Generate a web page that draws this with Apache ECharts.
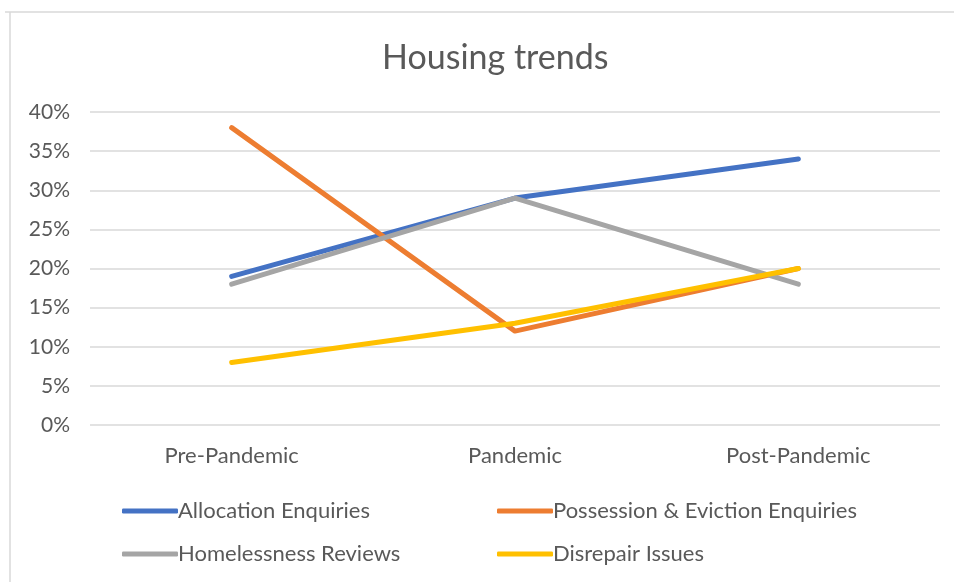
<!DOCTYPE html>
<html>
<head>
<meta charset="utf-8">
<title>Housing trends</title>
<script src="https://cdn.jsdelivr.net/npm/echarts@6/dist/echarts.min.js"></script>
<style>
  html, body { margin: 0; padding: 0; background: #fff; }
  #chart { width: 954px; height: 582px; }
</style>
</head>
<body>
<div id="chart"></div>
<script>
// Periods on the x axis
const periods = ['Pre-Pandemic', 'Pandemic', 'Post-Pandemic'];

// Share of cases per period (percent)
const allocationEnquiries = [19, 29, 34];
const possessionEvictionEnquiries = [38, 12, 20];
const homelessnessReviews = [18, 29, 18];
const disrepairIssues = [8, 13, 20];

const seriesNames = [
  'Allocation Enquiries',
  'Possession & Eviction Enquiries',
  'Homelessness Reviews',
  'Disrepair Issues'
];
const seriesColors = ['#4472C4', '#ED7D31', '#A5A5A5', '#FFC000'];
const seriesValues = [allocationEnquiries, possessionEvictionEnquiries, homelessnessReviews, disrepairIssues];

const FONT = 'Lato, "Open Sans", sans-serif';
const TEXT = '#595959';

const chart = echarts.init(document.getElementById('chart'), null, { renderer: 'canvas' });

const legendCommon = {
  orient: 'vertical',
  top: 495,
  itemWidth: 56,
  itemHeight: 5,
  itemGap: 21,
  icon: 'roundRect',
  textStyle: { fontFamily: FONT, fontSize: 22, color: TEXT, padding: [0, 0, 0, -5] }
};

chart.setOption({
  animation: false,
  backgroundColor: '#fff',
  title: {
    text: 'Housing trends',
    left: 377,
    top: 36,
    textStyle: { fontFamily: FONT, fontSize: 34, fontWeight: 'normal', color: TEXT }
  },
  legend: [
    Object.assign({ left: 117, data: [seriesNames[0], seriesNames[2]] }, legendCommon),
    Object.assign({ left: 492, data: [seriesNames[1], seriesNames[3]] }, legendCommon)
  ],
  grid: { left: 90, right: 14, top: 112, bottom: 157 },
  xAxis: {
    type: 'category',
    data: periods,
    boundaryGap: true,
    axisLine: { show: false },
    axisTick: { show: false },
    axisLabel: { fontFamily: FONT, fontSize: 22, color: TEXT, margin: 20 }
  },
  yAxis: {
    type: 'value',
    min: 0,
    max: 40,
    interval: 5,
    axisLine: { show: false },
    axisTick: { show: false },
    axisLabel: {
      fontFamily: FONT, fontSize: 21, color: TEXT, margin: 20,
      formatter: v => v + '%'
    },
    splitLine: { lineStyle: { color: '#D9D9D9', width: 1.5 } }
  },
  series: seriesNames.map((name, i) => ({
    name: name,
    type: 'line',
    data: seriesValues[i],
    color: seriesColors[i],
    symbol: 'none',
    lineStyle: { width: 5, cap: 'round', join: 'round' }
  })),
  graphic: [
    { type: 'line', shape: { x1: 5, y1: 12, x2: 954, y2: 12 }, style: { stroke: '#D9D9D9', lineWidth: 1.5 } },
    { type: 'line', shape: { x1: 10, y1: 12, x2: 10, y2: 582 }, style: { stroke: '#D9D9D9', lineWidth: 1.5 } }
  ]
});
</script>
</body>
</html>
